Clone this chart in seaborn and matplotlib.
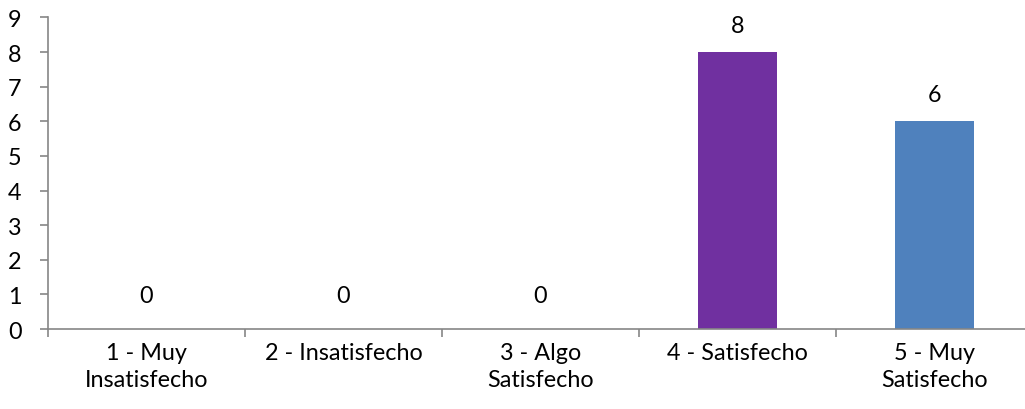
import matplotlib
matplotlib.use("Agg")
import matplotlib.pyplot as plt
import seaborn as sns
import pandas as pd
import numpy as np

categories = ["1 - Muy\nInsatisfecho", "2 - Insatisfecho", "3 - Algo\nSatisfecho",
              "4 - Satisfecho", "5 - Muy\nSatisfecho"]
values = [0, 0, 0, 8, 6]
bar_colors = ["#4F81BD", "#C0504D", "#9BBB59", "#7030A0", "#4F81BD"]
y_ticks = list(range(0, 10))

sns.set_style("white")
plt.rcParams['font.family'] = ['Lato', 'DejaVu Sans']

df = pd.DataFrame({"cat": categories, "val": values})

fig = plt.figure(figsize=(10.25, 4.1), dpi=100)
ax = fig.add_axes([0.04683, 0.1951, 0.961, 0.760])

sns.barplot(data=df, x="cat", y="val", hue="cat", palette=bar_colors,
            legend=False, width=0.405, ax=ax, saturation=1, linewidth=0)

ax.set_ylim(0, 9)
ax.set_xlim(-0.5, 4.5)
ax.set_yticks(y_ticks)
ax.set_xlabel("")
ax.set_ylabel("")

FS = 16.8
ax.set_xticks(range(len(categories)), labels=categories, linespacing=1.4)

for i, v in enumerate(values):
    off = 19 if v > 0 else 24
    ax.annotate(str(v), (i, v), xytext=(0, off), textcoords="offset points",
                ha="center", va="center", fontsize=FS, color="black")

for s in ["top", "right"]:
    ax.spines[s].set_visible(False)
for s in ["left", "bottom"]:
    ax.spines[s].set_color("#868686")
    ax.spines[s].set_linewidth(1.2)

ax.tick_params(axis="y", which="major", length=6, width=1.2, color="#868686",
               labelsize=FS, labelcolor="black", left=True, pad=13)
ax.tick_params(axis="x", which="major", length=0, labelsize=FS,
               labelcolor="black", pad=9)
ax.set_xticks(np.arange(-0.5, 5.0, 1.0), minor=True)
ax.tick_params(axis="x", which="minor", length=6, width=1.2, color="#868686",
               bottom=True, direction="out")
ax.grid(False)

fig.savefig("out.png", dpi=100)
